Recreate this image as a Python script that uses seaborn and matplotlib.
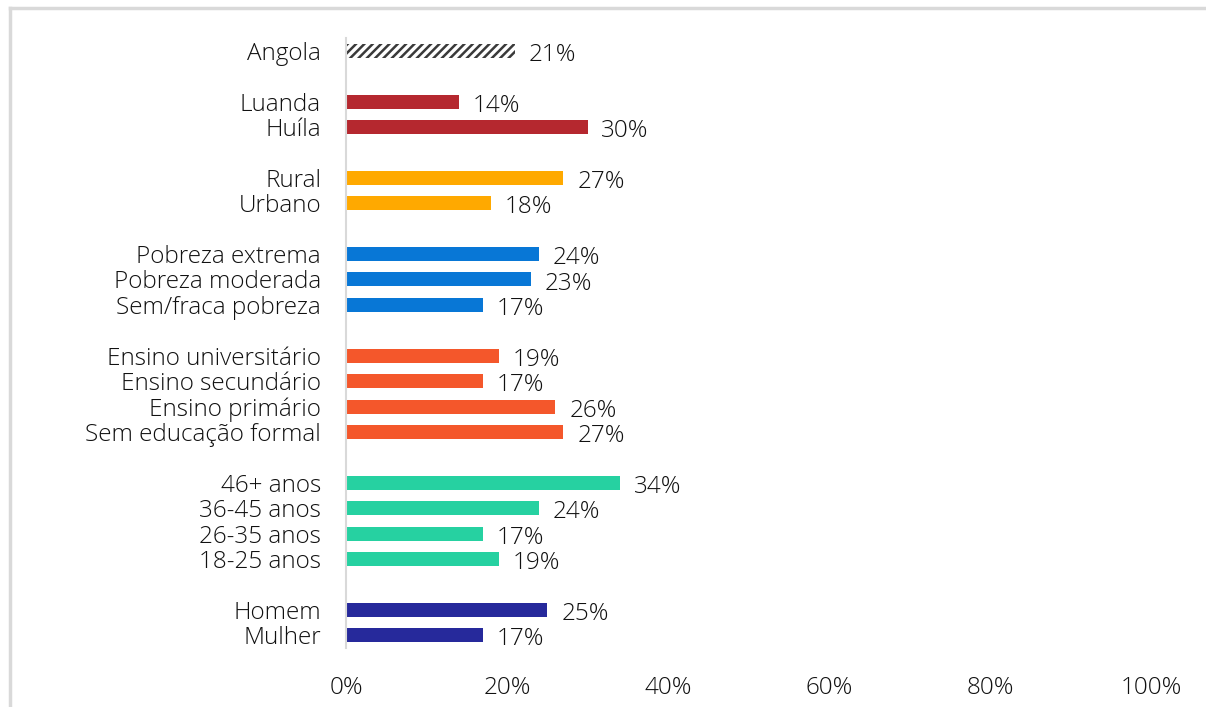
import seaborn as sns
import matplotlib.pyplot as plt
import pandas as pd
from matplotlib.lines import Line2D
from matplotlib.ticker import PercentFormatter

categorias = ['Angola',
              'Luanda', 'Huíla',
              'Rural', 'Urbano',
              'Pobreza extrema', 'Pobreza moderada', 'Sem/fraca pobreza',
              'Ensino universitário', 'Ensino secundário', 'Ensino primário', 'Sem educação formal',
              '46+ anos', '36-45 anos', '26-35 anos', '18-25 anos',
              'Homem', 'Mulher']
valores = [21,
           14, 30,
           27, 18,
           24, 23, 17,
           19, 17, 26, 27,
           34, 24, 17, 19,
           25, 17]
grupos = ['total',
          'provincia', 'provincia',
          'area', 'area',
          'pobreza', 'pobreza', 'pobreza',
          'educacao', 'educacao', 'educacao', 'educacao',
          'idade', 'idade', 'idade', 'idade',
          'sexo', 'sexo']
xticks = [0, 20, 40, 60, 80, 100]

cores = {
    'total': 'white',
    'provincia': '#B5282F',
    'area': '#FFA900',
    'pobreza': '#0877D6',
    'educacao': '#F4572B',
    'idade': '#26D1A1',
    'sexo': '#26299B',
}

df = pd.DataFrame({'categoria': categorias, 'valor': valores, 'grupo': grupos})

# ordem com espaços vazios entre os grupos
ordem = []
anterior = None
n_vazio = 0
for cat, g in zip(categorias, grupos):
    if anterior is not None and g != anterior:
        n_vazio += 1
        ordem.append(' ' * n_vazio)
    ordem.append(cat)
    anterior = g

plt.rcParams['font.family'] = ['Open Sans', 'DejaVu Sans']
plt.rcParams['font.weight'] = 'light'
plt.rcParams['hatch.linewidth'] = 1.8
texto = '#111111'

fig = plt.figure(figsize=(12.06, 7.07), dpi=100)
ax = fig.add_axes([346 / 1206, 59 / 707, 805 / 1206, 610 / 707])

sns.barplot(data=df, y='categoria', x='valor', hue='grupo', order=ordem,
            palette=cores, dodge=False, legend=False, width=0.55,
            saturation=1, ax=ax)

# barra Angola tracejada
for p in ax.patches:
    if p.get_facecolor()[:3] == (1.0, 1.0, 1.0) and p.get_width() > 0:
        p.set_hatch('////')
        p.set_edgecolor('#3a3a3a')
        p.set_linewidth(0)

for cat, v in zip(categorias, valores):
    ax.annotate(f'{v}%', xy=(v, ordem.index(cat)), xytext=(10, -3),
                textcoords='offset points', va='center', ha='left',
                fontsize=17.5, color=texto)

ax.set_xlim(0, 100)
ax.set_ylim(len(ordem) - 0.5, -0.5)
ax.set_xticks(xticks)
ax.xaxis.set_major_formatter(PercentFormatter(decimals=0))
ax.set_xlabel('')
ax.set_ylabel('')
ax.tick_params(axis='both', length=0, labelsize=17.5, labelcolor=texto)
ax.tick_params(axis='y', pad=18)
ax.tick_params(axis='x', pad=20)
for s in ['top', 'right', 'bottom']:
    ax.spines[s].set_visible(False)
ax.spines['left'].set_color('#d9d9d9')
ax.spines['left'].set_linewidth(1.5)

# moldura do gráfico
fig.add_artist(Line2D([10 / 1206, 1], [1 - 8 / 707, 1 - 8 / 707], color='#d9d9d9', lw=2.5))
fig.add_artist(Line2D([10 / 1206, 10 / 1206], [0, 1 - 8 / 707], color='#d9d9d9', lw=2.5))

plt.savefig('out.png', dpi=100)
